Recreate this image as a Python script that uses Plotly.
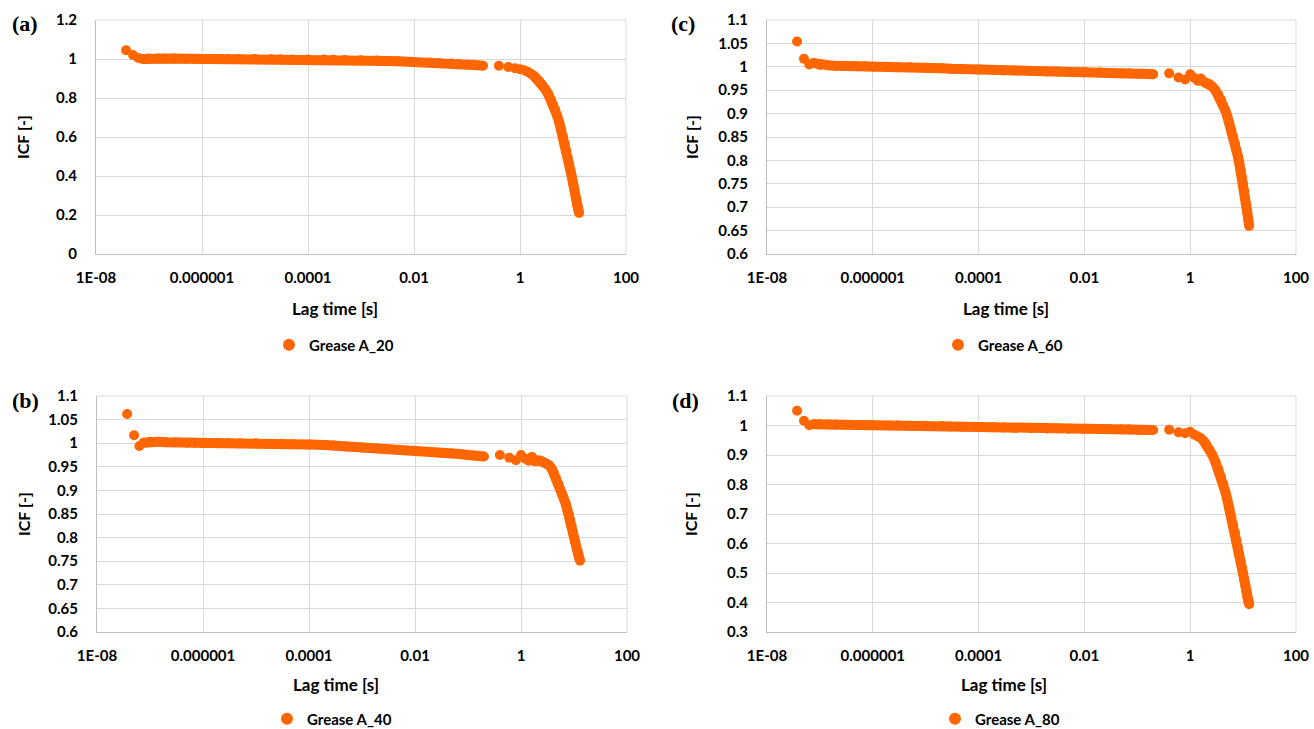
import plotly.graph_objects as go

# ---------------- data ----------------
lag_time = [3.7e-8, 5e-8, 6.3e-8, 7.5e-8, 1e-7, 1.5e-7, 2e-7, 3e-7, 5e-7, 7e-7,
            1e-6, 2e-6, 3e-6, 5e-6, 1e-5, 2e-5, 3e-5, 5e-5, 1e-4, 2e-4,
            3e-4, 5e-4, 1e-3, 2e-3, 3e-3, 5e-3, 0.01, 0.02, 0.03, 0.05,
            0.07, 0.1, 0.13, 0.16, 0.2,
            0.4, 0.6, 0.8, 1.0, 1.2, 1.4, 1.6, 1.8, 2.0, 2.3, 2.6, 3.0, 3.4, 3.8,
            4.2, 4.6, 5.0, 5.5, 6.0, 6.5, 7.0, 7.5, 8.0, 8.5, 9.0, 9.5, 10.0,
            10.5, 11.0, 11.5, 12.0, 12.5, 13.0]

icf_A20 = [1.045, 1.02, 1.005, 1.0, 1.003, 1.003, 1.002, 1.002, 1.001, 1.001,
           1.0, 1.0, 1.0, 1.0, 1.0, 0.999, 0.999, 0.998, 0.998, 0.997,
           0.996, 0.995, 0.994, 0.992, 0.99, 0.988, 0.985, 0.982, 0.98, 0.977,
           0.975, 0.972, 0.97, 0.968, 0.966,
           0.965, 0.959, 0.953, 0.948, 0.942, 0.934, 0.925, 0.915, 0.904, 0.887,
           0.869, 0.845, 0.820, 0.794, 0.767, 0.739, 0.711, 0.675, 0.638, 0.601,
           0.565, 0.529, 0.494, 0.46, 0.427, 0.395, 0.364, 0.334, 0.305, 0.277,
           0.25, 0.228, 0.21]

icf_A40 = [1.062, 1.017, 0.994, 1.001, 1.003, 1.003, 1.002, 1.002, 1.001, 1.001,
           1.0, 1.0, 1.0, 1.0, 1.0, 0.999, 0.999, 0.998, 0.997, 0.996,
           0.995, 0.993, 0.991, 0.989, 0.987, 0.986, 0.984, 0.982, 0.98, 0.978,
           0.977, 0.975, 0.974, 0.973, 0.972,
           0.975, 0.969, 0.964, 0.975, 0.967, 0.963, 0.971, 0.962, 0.964, 0.963,
           0.96, 0.957, 0.953, 0.946, 0.936, 0.925, 0.915, 0.902, 0.892, 0.881,
           0.871, 0.86, 0.849, 0.837, 0.825, 0.813, 0.80, 0.791, 0.782, 0.773,
           0.765, 0.757, 0.751]

icf_A60 = [1.054, 1.017, 1.005, 1.008, 1.004, 1.003, 1.002, 1.002, 1.001, 1.001,
           1.0, 1.0, 0.999, 0.999, 0.998, 0.997, 0.996, 0.995, 0.994, 0.993,
           0.992, 0.992, 0.991, 0.99, 0.99, 0.989, 0.989, 0.988, 0.987, 0.986,
           0.986, 0.985, 0.985, 0.984, 0.984,
           0.986, 0.977, 0.973, 0.984, 0.976, 0.970, 0.975, 0.968, 0.966, 0.963,
           0.958, 0.95, 0.94, 0.93, 0.918, 0.907, 0.895, 0.88, 0.865, 0.85,
           0.836, 0.822, 0.808, 0.793, 0.779, 0.765, 0.75, 0.735, 0.72, 0.705,
           0.69, 0.675, 0.66]

icf_A80 = [1.05, 1.016, 1.001, 1.004, 1.004, 1.003, 1.003, 1.002, 1.002, 1.001,
           1.001, 1.0, 1.0, 0.999, 0.999, 0.998, 0.997, 0.996, 0.995, 0.994,
           0.993, 0.992, 0.991, 0.99, 0.99, 0.989, 0.989, 0.988, 0.988, 0.987,
           0.987, 0.986, 0.986, 0.985, 0.985,
           0.986, 0.977, 0.974, 0.979, 0.969, 0.963, 0.957, 0.947, 0.936, 0.919,
           0.901, 0.876, 0.852, 0.828, 0.803, 0.776, 0.75, 0.72, 0.69, 0.662,
           0.637, 0.611, 0.587, 0.563, 0.54, 0.518, 0.497, 0.477, 0.457, 0.437,
           0.418, 0.403, 0.394]

series_names = ["Grease A_20", "Grease A_60", "Grease A_40", "Grease A_80"]
panel_labels = ["(a)", "(c)", "(b)", "(d)"]

x_tickvals = [1e-8, 1e-6, 1e-4, 1e-2, 1, 100]
x_ticktext = ["1E-08", "0.000001", "0.0001", "0.01", "1", "100"]

y_ticks_a = [0, 0.2, 0.4, 0.6, 0.8, 1, 1.2]
y_ticks_bc = [0.6, 0.65, 0.7, 0.75, 0.8, 0.85, 0.9, 0.95, 1, 1.05, 1.1]
y_ticks_d = [0.3, 0.4, 0.5, 0.6, 0.7, 0.8, 0.9, 1, 1.1]

x_title = "Lag time [s]"
y_title = "ICF [-]"

# ---------------- styling ----------------
W, H = 1314, 729
ORANGE = "#ff6600"
GRID = "#d9d9d9"
AXIS = "#bfbfbf"
FONT = "Lato"


def px_x(p):
    return p / W


def px_y(p):
    return 1 - p / H


def bold_font(size):
    return dict(family=FONT, size=size, color="#000000", weight="bold")


panels = [
    dict(y=icf_A20, ticks=y_ticks_a, xd=(96, 626), yd=(20, 254), xt=(335, 308), yt=23, lg=(269, 345), lb=(25, 23)),
    dict(y=icf_A60, ticks=y_ticks_bc, xd=(767, 1296), yd=(20, 254), xt=(1006, 308), yt=692, lg=(938, 345), lb=(683, 23)),
    dict(y=icf_A40, ticks=y_ticks_bc, xd=(97, 627), yd=(396, 632), xt=(336, 684), yt=23, lg=(267, 719), lb=(25, 400)),
    dict(y=icf_A80, ticks=y_ticks_d, xd=(767, 1296), yd=(396, 632), xt=(1004, 684), yt=690, lg=(935, 719), lb=(685, 400)),
]

fig = go.Figure()
annotations = []
layout_axes = {}
shapes = []

for i, p in enumerate(panels):
    n = i + 1
    xa = "x" if n == 1 else f"x{n}"
    ya = "y" if n == 1 else f"y{n}"
    lg = "legend" if n == 1 else f"legend{n}"

    # dense parts of the record drawn as a thick band (overlapping markers)
    band_y = [v if ((t >= 7.5e-8 and t <= 0.2) or t >= 1.8) else None
              for t, v in zip(lag_time, p["y"])]
    fig.add_trace(go.Scatter(x=lag_time, y=band_y, mode="lines",
                             line=dict(color=ORANGE, width=10),
                             connectgaps=False, showlegend=False,
                             hoverinfo="skip", xaxis=xa, yaxis=ya))
    fig.add_trace(go.Scatter(x=lag_time, y=p["y"], mode="markers",
                             marker=dict(color=ORANGE, size=10),
                             name=series_names[i], legend=lg,
                             xaxis=xa, yaxis=ya))

    xkey = "xaxis" if n == 1 else f"xaxis{n}"
    ykey = "yaxis" if n == 1 else f"yaxis{n}"
    layout_axes[xkey] = dict(
        type="log", range=[-8, 2], domain=[px_x(p["xd"][0]), px_x(p["xd"][1])],
        anchor=ya, tickvals=x_tickvals, ticktext=x_ticktext,
        showgrid=True, gridcolor=GRID, gridwidth=1,
        showline=True, linecolor=AXIS, linewidth=1,
        zeroline=False, ticks="", tickfont=bold_font(15),
        ticklabelstandoff=10, automargin=False,
    )
    ymin, ymax = p["ticks"][0], p["ticks"][-1]
    layout_axes[ykey] = dict(
        range=[ymin, ymax], domain=[px_y(p["yd"][1]), px_y(p["yd"][0])],
        anchor=xa, tickvals=p["ticks"], ticktext=[f"{v:g}" for v in p["ticks"]],
        showgrid=True, gridcolor=GRID, gridwidth=1,
        showline=True, linecolor=AXIS, linewidth=1,
        zeroline=False, ticks="", tickfont=bold_font(15),
        ticklabelstandoff=15, automargin=False,
    )

    layout_axes[lg] = dict(
        x=px_x(p["lg"][0]), y=px_y(p["lg"][1]), xanchor="left", yanchor="middle",
        xref="paper", yref="paper", bgcolor="rgba(0,0,0,0)",
        font=bold_font(15), itemsizing="constant", borderwidth=0,
    )

    annotations.append(dict(text=x_title, x=px_x(p["xt"][0]), y=px_y(p["xt"][1]),
                            xref="paper", yref="paper", showarrow=False,
                            xanchor="center", yanchor="middle", font=bold_font(17)))
    annotations.append(dict(text=y_title, x=px_x(p["yt"]),
                            y=px_y((p["yd"][0] + p["yd"][1]) / 2),
                            xref="paper", yref="paper", showarrow=False, textangle=-90,
                            xanchor="center", yanchor="middle", font=bold_font(16)))
    annotations.append(dict(text="<b>" + panel_labels[i] + "</b>", x=px_x(p["lb"][0]),
                            y=px_y(p["lb"][1]),
                            xref="paper", yref="paper", showarrow=False,
                            xanchor="center", yanchor="middle",
                            font=dict(family="Liberation Serif", size=22, color="#000000")))

    # top / right edge gridlines of each plot area
    x0, x1 = px_x(p["xd"][0]), px_x(p["xd"][1])
    y0, y1 = px_y(p["yd"][1]), px_y(p["yd"][0])
    shapes.append(dict(type="line", xref="paper", yref="paper", x0=x0, x1=x1, y0=y1, y1=y1,
                       line=dict(color=GRID, width=1), layer="below"))
    shapes.append(dict(type="line", xref="paper", yref="paper", x0=x1, x1=x1, y0=y0, y1=y1,
                       line=dict(color=GRID, width=1), layer="below"))

fig.update_layout(
    width=W, height=H, margin=dict(l=0, r=0, t=0, b=0, autoexpand=False),
    paper_bgcolor="white", plot_bgcolor="white",
    annotations=annotations, shapes=shapes, showlegend=True,
    **layout_axes,
)

fig.write_html(
    "out.html",
    config={"displayModeBar": False},
    post_script="document.body.style.margin='0';document.body.style.overflow='hidden';",
)
